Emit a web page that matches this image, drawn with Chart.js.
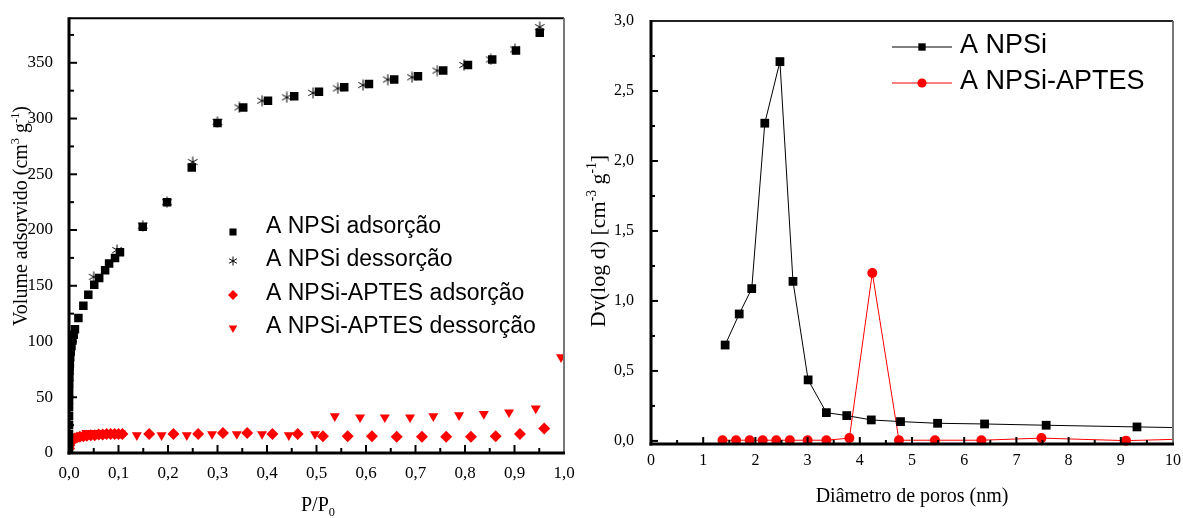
<!DOCTYPE html>
<html>
<head>
<meta charset="utf-8">
<script src="https://cdn.jsdelivr.net/npm/chart.js@4.4.1/dist/chart.umd.min.js"></script>
<style>
  html, body { margin: 0; padding: 0; background: #fff; }
  #wrap { position: relative; width: 1183px; height: 518px; overflow: hidden; }
  canvas { position: absolute; top: 0; }
  #iso { left: 0; }
  #psd { left: 570px; }
</style>
</head>
<body>
<div id="wrap">
  <canvas id="iso" width="590" height="518"></canvas>
  <canvas id="psd" width="613" height="518"></canvas>
</div>
<script>
// ---------- Isotherm data (P/P0, volume cm3 g-1) ----------
const npsiAdsP = [0.00001, 0.00002, 0.00004, 0.00007, 0.0001, 0.00015, 0.0002, 0.0003, 0.0005, 0.0008,
  0.0012, 0.0018, 0.0025, 0.0035, 0.005, 0.007, 0.0095, 0.012, 0.019, 0.029, 0.039, 0.051, 0.061, 0.073,
  0.081, 0.093, 0.103, 0.149, 0.198, 0.248, 0.300, 0.352, 0.402, 0.455, 0.505, 0.556, 0.606, 0.657,
  0.705, 0.756, 0.806, 0.855, 0.903, 0.951];
const npsiAdsV = [4, 10, 17, 25, 33, 41, 48, 55, 62, 68,
  74, 80, 86, 91, 96, 101, 106, 111, 121, 132, 142, 151, 157, 164,
  170, 175, 180, 203, 225, 256, 296, 310, 316, 320, 324, 328, 331, 335,
  338, 343, 348, 353, 361, 377];

const npsiDesP = [0.951, 0.901, 0.852, 0.798, 0.744, 0.693, 0.644, 0.594, 0.543, 0.493,
  0.440, 0.390, 0.344, 0.300, 0.250, 0.198, 0.149, 0.097, 0.050];
const npsiDesV = [382, 362, 353, 348, 343, 337, 335, 330, 327, 323,
  319, 316, 310, 297, 261, 225, 204, 182, 158];

const aptesAdsP = [0.0002, 0.0008, 0.002, 0.004, 0.007, 0.011, 0.016, 0.022, 0.029, 0.036,
  0.044, 0.052, 0.060, 0.068, 0.076, 0.084, 0.092, 0.100, 0.108, 0.162, 0.211, 0.261, 0.311,
  0.360, 0.411, 0.462, 0.513, 0.563, 0.612, 0.662, 0.713, 0.762, 0.812, 0.862, 0.911, 0.960];
const aptesAdsV = [4, 7, 9, 11, 12, 13, 14, 14.5, 15, 15.5,
  16, 16, 16.5, 16.5, 17, 17, 17, 17, 17, 17, 17, 17, 18,
  18, 17, 17, 15, 15, 15, 14.5, 14.5, 14.5, 14.5, 15, 17, 22];

const aptesDesP = [0.035, 0.045, 0.055, 0.065, 0.075, 0.085, 0.095, 0.105, 0.137, 0.187,
  0.238, 0.289, 0.339, 0.390, 0.444, 0.497, 0.537, 0.588, 0.638, 0.689, 0.736, 0.788,
  0.838, 0.889, 0.943, 0.994];
const aptesDesV = [18, 18, 18, 18, 17.5, 17.5, 17.5, 17.5, 16, 16,
  16, 17, 17, 17, 16, 17, 33, 32, 32, 32, 33, 34,
  35, 36.5, 40, 86];

const isoPTicks = [0, 0.1, 0.2, 0.3, 0.4, 0.5, 0.6, 0.7, 0.8, 0.9, 1.0];
const isoPLabels = ['0,0', '0,1', '0,2', '0,3', '0,4', '0,5', '0,6', '0,7', '0,8', '0,9', '1,0'];
const isoVTicks = [0, 50, 100, 150, 200, 250, 300, 350];
const isoVLabels = ['0', '50', '100', '150', '200', '250', '300', '350'];

// ---------- Pore size distribution (diameter nm, Dv(log d)) ----------
const psdNpsiD = [1.42, 1.69, 1.93, 2.18, 2.47, 2.72, 3.01, 3.36, 3.75, 4.22, 4.78, 5.49, 6.39, 7.57, 9.31, 11.2];
const psdNpsiDv = [0.685, 0.907, 1.088, 2.27, 2.71, 1.14, 0.436, 0.202, 0.181, 0.150, 0.138, 0.126, 0.121, 0.112, 0.100, 0.088];
const psdAptesD = [1.37, 1.63, 1.89, 2.14, 2.40, 2.66, 3.00, 3.36, 3.80, 4.24, 4.75, 5.44, 6.33, 7.48, 9.10, 10.9];
const psdAptesDv = [0.005, 0.005, 0.005, 0.005, 0.005, 0.005, 0.005, 0.005, 0.02, 1.20, 0.005, 0.005, 0.005, 0.02, 0.002, 0.02];

const psdDTicks = [0, 1, 2, 3, 4, 5, 6, 7, 8, 9, 10];
const psdDLabels = ['0', '1', '2', '3', '4', '5', '6', '7', '8', '9', '10'];
const psdDvTicks = [0, 0.5, 1.0, 1.5, 2.0, 2.5, 3.0];
const psdDvLabels = ['0,0', '0,5', '1,0', '1,5', '2,0', '2,5', '3,0'];

// ---------- helpers ----------
const SERIF = "'Liberation Serif', 'Times New Roman', serif";
const SANS = "'Liberation Sans', Arial, sans-serif";
Chart.defaults.font.family = SERIF;
Chart.defaults.color = '#000';

const pts = (xs, ys) => xs.map((x, i) => ({ x, y: ys[i] }));

// six-armed asterisk marker
function asterisk(size, lw) {
  const c = document.createElement('canvas');
  c.width = c.height = size;
  const g = c.getContext('2d');
  g.strokeStyle = '#000';
  g.lineWidth = lw;
  g.translate(size / 2, size / 2);
  const r = size / 2 - 0.5;
  [90, 30, 150].forEach(a => {
    const t = a * Math.PI / 180;
    g.beginPath();
    g.moveTo(-r * Math.cos(t), -r * Math.sin(t));
    g.lineTo(r * Math.cos(t), r * Math.sin(t));
    g.stroke();
  });
  return c;
}
const starBig = asterisk(12, 1);
const starSmall = asterisk(10, 1);

function fixedTicks(values) {
  return scale => { scale.ticks = values.map(v => ({ value: v })); };
}

// inward major/minor tick marks and the box frame
const framePlugin = {
  id: 'frame',
  afterDraw(chart, args, o) {
    const { ctx, chartArea: a, scales } = chart;
    ctx.save();
    ctx.strokeStyle = '#000';
    ctx.lineWidth = 2;
    const minorOf = (s) => {
      const v = s.ticks.map(t => t.value);
      const step = v[1] - v[0];
      const out = [];
      for (let i = 0; i < v.length - 1; i++) out.push((v[i] + v[i + 1]) / 2);
      if (v[v.length - 1] + step / 2 <= s.max) out.push(v[v.length - 1] + step / 2);
      if (v[0] - step / 2 >= s.min) out.push(v[0] - step / 2);
      return out;
    };
    const xs = scales.x, ys = scales.y;
    const tick = (s, val, len) => {
      ctx.beginPath();
      if (s === xs) {
        const p = xs.getPixelForValue(val);
        ctx.moveTo(p, a.bottom); ctx.lineTo(p, a.bottom - len);
      } else {
        const p = ys.getPixelForValue(val);
        ctx.moveTo(a.left, p); ctx.lineTo(a.left + len, p);
      }
      ctx.stroke();
    };
    xs.ticks.forEach(t => tick(xs, t.value, o.major));
    minorOf(xs).forEach(v => tick(xs, v, o.minor));
    ys.ticks.forEach(t => tick(ys, t.value, o.major));
    minorOf(ys).forEach(v => tick(ys, v, o.minor));

    // top and right edges
    ctx.lineWidth = 2;
    ctx.strokeStyle = o.topColor;
    ctx.beginPath(); ctx.moveTo(a.left, a.top); ctx.lineTo(a.right, a.top); ctx.stroke();
    ctx.strokeStyle = o.rightColor;
    ctx.beginPath(); ctx.moveTo(a.right, a.top); ctx.lineTo(a.right, a.bottom); ctx.stroke();
    // axes
    ctx.lineWidth = 3;
    ctx.strokeStyle = '#000';
    ctx.beginPath(); ctx.moveTo(a.left, a.top - 1); ctx.lineTo(a.left, a.bottom + 1.5); ctx.stroke();
    ctx.beginPath(); ctx.moveTo(a.left - 1.5, a.bottom); ctx.lineTo(a.right + 1, a.bottom); ctx.stroke();
    ctx.restore();
  }
};

// axis titles with super/subscripts
function drawRich(ctx, item) {
  const { parts, x, y, size, rotate } = item;
  const fontFor = p => `${(p.sup || p.sub) ? size * 0.62 : size}px ${SERIF}`;
  let total = 0;
  const widths = parts.map(p => { ctx.font = fontFor(p); const w = ctx.measureText(p.t).width; total += w; return w; });
  ctx.save();
  ctx.translate(x, y);
  if (rotate) ctx.rotate(-Math.PI / 2);
  ctx.fillStyle = '#000';
  ctx.textBaseline = 'alphabetic';
  ctx.textAlign = 'left';
  let cx = -total / 2;
  parts.forEach((p, i) => {
    ctx.font = fontFor(p);
    const dy = p.sup ? -size * 0.42 : p.sub ? size * 0.26 : 0;
    ctx.fillText(p.t, cx, dy);
    cx += widths[i];
  });
  ctx.restore();
}
const titlePlugin = {
  id: 'richTitles',
  afterDraw(chart, args, o) { o.items.forEach(it => drawRich(chart.ctx, it)); }
};

// legend placed inside the plot
const legendPlugin = {
  id: 'innerLegend',
  afterDraw(chart, args, o) {
    const ctx = chart.ctx;
    chart.data.datasets.forEach((ds, i) => {
      if (ds.label == null) return;
      const ty = o.textY[i], my = o.markerY[i];
      ctx.save();
      if (o.line) {
        ctx.strokeStyle = ds.borderColor;
        ctx.lineWidth = 1;
        ctx.beginPath(); ctx.moveTo(o.line[0], my); ctx.lineTo(o.line[1], my); ctx.stroke();
      }
      ctx.fillStyle = ds.pointBackgroundColor;
      ctx.strokeStyle = ds.pointBackgroundColor;
      Chart.helpers.drawPoint(ctx, {
        pointStyle: o.styles && o.styles[i] ? o.styles[i] : ds.pointStyle,
        radius: o.radii[i], rotation: ds.pointRotation || 0, borderWidth: 0
      }, o.markerX, my);
      ctx.fillStyle = '#000';
      ctx.font = `${o.size}px ${SANS}`;
      ctx.textBaseline = 'middle';
      ctx.textAlign = 'left';
      ctx.fillText(ds.label, o.textX, ty);
      ctx.restore();
    });
  }
};

const noClip = { left: 0, right: 0, top: 5, bottom: 5 };

// ---------- N2 isotherms ----------
new Chart(document.getElementById('iso'), {
  type: 'scatter',
  data: {
    datasets: [
      { label: 'A NPSi adsorção', data: pts(npsiAdsP, npsiAdsV), pointStyle: 'rect', pointRadius: 6,
        pointBackgroundColor: '#000', pointBorderWidth: 0, clip: noClip },
      { label: 'A NPSi dessorção', data: pts(npsiDesP, npsiDesV), pointStyle: starBig, pointRadius: 6,
        pointBackgroundColor: '#000', pointBorderWidth: 0, clip: noClip },
      { label: 'A NPSi-APTES adsorção', data: pts(aptesAdsP, aptesAdsV), pointStyle: 'rectRot', pointRadius: 6,
        pointBackgroundColor: '#ff0000', pointBorderWidth: 0, clip: noClip },
      { label: 'A NPSi-APTES dessorção', data: pts(aptesDesP, aptesDesV), pointStyle: 'triangle', pointRotation: 180,
        pointRadius: 5.8, pointBackgroundColor: '#ff0000', pointBorderWidth: 0, clip: noClip }
    ]
  },
  options: {
    responsive: false, animation: false, events: [],
    layout: { padding: { left: 0, top: 16, right: 26, bottom: 0 } },
    plugins: {
      legend: { display: false }, tooltip: { enabled: false },
      frame: { major: 8, minor: 5, topColor: '#000', rightColor: '#777' },
      richTitles: { items: [
        { parts: [{ t: 'Volume adsorvido (cm' }, { t: '3', sup: true }, { t: ' g' }, { t: '-1', sup: true }, { t: ')' }],
          x: 27, y: 216, size: 20, rotate: true },
        { parts: [{ t: 'P/P' }, { t: '0', sub: true }], x: 318, y: 511, size: 20 }
      ] },
      innerLegend: {
        markerX: 233, textX: 266, size: 23,
        textY: [227, 260, 294, 327], markerY: [232, 261, 295, 328],
        radii: [5, 5, 5, 5], styles: [null, starSmall, null, null]
      }
    },
    scales: {
      x: {
        type: 'linear', min: 0, max: 1,
        afterBuildTicks: fixedTicks(isoPTicks),
        ticks: { callback: (v, i) => isoPLabels[i], font: { size: 17 }, padding: 2, maxRotation: 0, autoSkip: false },
        grid: { display: false }, border: { display: false },
        afterFit: s => { s.height = 65; }
      },
      y: {
        type: 'linear', min: 0, max: 390,
        afterBuildTicks: fixedTicks(isoVTicks),
        ticks: { callback: (v, i) => isoVLabels[i], font: { size: 17 }, padding: 8, autoSkip: false },
        grid: { display: false }, border: { display: false },
        afterFit: s => { s.width = 69; }
      }
    }
  },
  plugins: [framePlugin, titlePlugin, legendPlugin]
});

// ---------- Pore size distribution ----------
const psdClip = { left: 0, right: 0, top: 5, bottom: 5 };
new Chart(document.getElementById('psd'), {
  type: 'scatter',
  data: {
    datasets: [
      { label: 'A NPSi', data: pts(psdNpsiD, psdNpsiDv), showLine: true, borderColor: '#000', borderWidth: 1,
        pointStyle: 'rect', pointRadius: 6.2, pointBackgroundColor: '#000', pointBorderWidth: 0, tension: 0, clip: psdClip },
      { label: 'A NPSi-APTES', data: pts(psdAptesD, psdAptesDv), showLine: true, borderColor: '#ff0000', borderWidth: 1,
        pointStyle: 'circle', pointRadius: 5, pointBackgroundColor: '#ff0000', pointBorderWidth: 0, tension: 0, clip: psdClip }
    ]
  },
  options: {
    responsive: false, animation: false, events: [],
    layout: { padding: { left: 0, top: 21, right: 10, bottom: 0 } },
    plugins: {
      legend: { display: false }, tooltip: { enabled: false },
      frame: { major: 7, minor: 4, topColor: '#222', rightColor: '#777' },
      richTitles: { items: [
        { parts: [{ t: 'Dv(log d) [cm' }, { t: '-3', sup: true }, { t: ' g' }, { t: '-1', sup: true }, { t: ']' }],
          x: 35, y: 241, size: 22, rotate: true },
        { parts: [{ t: 'Diâmetro de poros (nm)' }], x: 342, y: 502, size: 20 }
      ] },
      innerLegend: {
        markerX: 352, textX: 390, size: 27, line: [322, 382],
        textY: [46, 82], markerY: [47, 83],
        radii: [5.2, 4.6]
      }
    },
    scales: {
      x: {
        type: 'linear', min: 0, max: 10,
        afterBuildTicks: fixedTicks(psdDTicks),
        ticks: { callback: (v, i) => psdDLabels[i], font: { size: 16 }, padding: -1, maxRotation: 0, autoSkip: false },
        grid: { display: false }, border: { display: false },
        afterFit: s => { s.height = 74; }
      },
      y: {
        type: 'linear', min: -0.022, max: 3.0,
        afterBuildTicks: fixedTicks(psdDvTicks),
        ticks: { callback: (v, i) => psdDvLabels[i], font: { size: 16 }, padding: 9, autoSkip: false },
        grid: { display: false }, border: { display: false },
        afterFit: s => { s.width = 81; }
      }
    }
  },
  plugins: [framePlugin, titlePlugin, legendPlugin]
});
</script>
</body>
</html>
